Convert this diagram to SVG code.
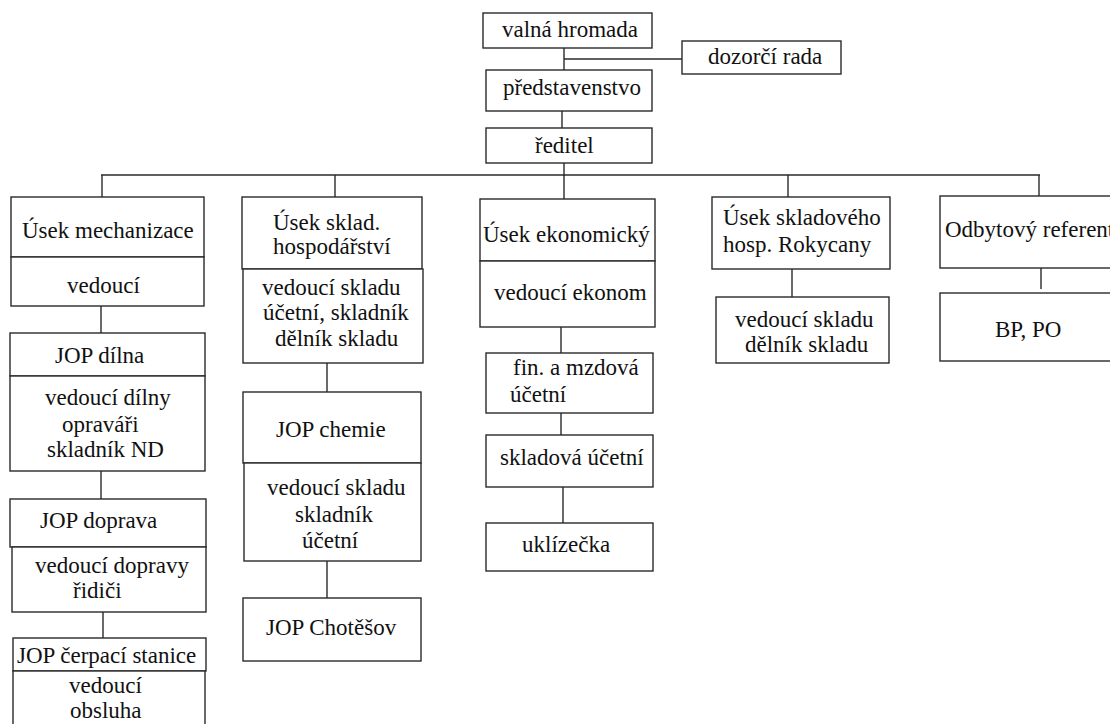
<svg xmlns="http://www.w3.org/2000/svg" width="1110" height="724" viewBox="0 0 1110 724">
<style>
rect{fill:#fff;stroke:#2a2a2a;stroke-width:1.4}
line{stroke:#2a2a2a;stroke-width:1.4;fill:none}
text{font-size:23px;fill:#111}
</style>
<rect x="0" y="0" width="1110" height="724" style="stroke:none"/>
<g id="connectors">
<line x1="564" y1="48" x2="564" y2="70"/>
<line x1="564" y1="59" x2="682" y2="59"/>
<line x1="562" y1="111" x2="562" y2="128"/>
<line x1="564" y1="163" x2="564" y2="176"/>
<line x1="101" y1="175" x2="1040" y2="175"/>
<line x1="102" y1="175" x2="102" y2="197"/>
<line x1="335" y1="175" x2="335" y2="197"/>
<line x1="564" y1="175" x2="564" y2="199"/>
<line x1="788" y1="175" x2="788" y2="197"/>
<line x1="1039" y1="175" x2="1039" y2="196"/>
<line x1="101" y1="306" x2="101" y2="333"/>
<line x1="101" y1="471" x2="101" y2="499"/>
<line x1="103" y1="612" x2="103" y2="638"/>
<line x1="327" y1="363" x2="327" y2="392"/>
<line x1="327" y1="561" x2="327" y2="598"/>
<line x1="561" y1="327" x2="561" y2="353"/>
<line x1="561" y1="413" x2="561" y2="435"/>
<line x1="563" y1="487" x2="563" y2="523"/>
<line x1="792" y1="269" x2="792" y2="297"/>
<line x1="1041" y1="268" x2="1041" y2="289"/>
</g>
<g font-family="Liberation Serif, Tinos, DejaVu Serif, serif">
<g id="valna-hromada"><rect x="483" y="13" width="169" height="35"/><text x="502" y="37">valná hromada</text></g>
<g id="dozorci-rada"><rect x="682" y="41" width="159" height="33"/><text x="708" y="64">dozorčí rada</text></g>
<g id="predstavenstvo"><rect x="486" y="70" width="166" height="41"/><text x="503" y="95">představenstvo</text></g>
<g id="reditel"><rect x="486" y="128" width="166" height="35"/><text x="535" y="153">ředitel</text></g>

<g id="usek-mechanizace"><rect x="11" y="197" width="193" height="60"/><rect x="11" y="257" width="193" height="49"/><text x="22" y="238">Úsek mechanizace</text><text x="67" y="293">vedoucí</text></g>
<g id="jop-dilna"><rect x="10" y="333" width="195" height="43"/><rect x="10" y="376" width="195" height="95"/><text x="55" y="363">JOP dílna</text><text x="45" y="405">vedoucí dílny</text><text x="62" y="432">opraváři</text><text x="47" y="457">skladník ND</text></g>
<g id="jop-doprava"><rect x="10" y="499" width="196" height="48"/><rect x="12" y="547" width="194" height="65"/><text x="40" y="528">JOP doprava</text><text x="35" y="573">vedoucí dopravy</text><text x="73" y="598">řidiči</text></g>
<g id="jop-cerpaci"><rect x="13" y="638" width="193" height="33"/><rect x="13" y="671" width="192" height="70"/><text x="17" y="663">JOP čerpací stanice</text><text x="69" y="693">vedoucí</text><text x="70" y="718">obsluha</text></g>

<g id="usek-sklad"><rect x="242" y="197" width="180" height="72"/><rect x="243" y="269" width="180" height="94"/><text x="273" y="230">Úsek sklad.</text><text x="273" y="254">hospodářství</text><text x="262" y="295">vedoucí skladu</text><text x="263" y="320">účetní, skladník</text><text x="275" y="346">dělník skladu</text></g>
<g id="jop-chemie"><rect x="243" y="392" width="178" height="71"/><rect x="244" y="463" width="177" height="98"/><text x="276" y="437">JOP chemie</text><text x="267" y="495">vedoucí skladu</text><text x="295" y="522">skladník</text><text x="302" y="548">účetní</text></g>
<g id="jop-chotesov"><rect x="243" y="598" width="178" height="63"/><text x="266" y="635">JOP Chotěšov</text></g>

<g id="usek-ekonomicky"><rect x="480" y="199" width="175" height="62"/><rect x="480" y="261" width="175" height="66"/><text x="483" y="242">Úsek ekonomický</text><text x="494" y="300">vedoucí ekonom</text></g>
<g id="fin-mzdova"><rect x="486" y="353" width="167" height="60"/><text x="513" y="375">fin. a mzdová</text><text x="510" y="402">účetní</text></g>
<g id="skladova-ucetni"><rect x="486" y="435" width="167" height="52"/><text x="500" y="465">skladová účetní</text></g>
<g id="uklizecka"><rect x="486" y="523" width="167" height="48"/><text x="522" y="552">uklízečka</text></g>

<g id="usek-rokycany"><rect x="712" y="197" width="178" height="72"/><text x="723" y="225">Úsek skladového</text><text x="723" y="252">hosp. Rokycany</text></g>
<g id="rokycany-vedouci"><rect x="716" y="297" width="173" height="66"/><text x="735" y="327">vedoucí skladu</text><text x="745" y="352">dělník skladu</text></g>

<g id="odbytovy-referent"><rect x="940" y="196" width="180" height="72"/><text x="945" y="237">Odbytový referent</text></g>
<g id="bp-po"><rect x="940" y="293" width="180" height="68"/><text x="995" y="337">BP, PO</text></g>
</g>
</svg>
